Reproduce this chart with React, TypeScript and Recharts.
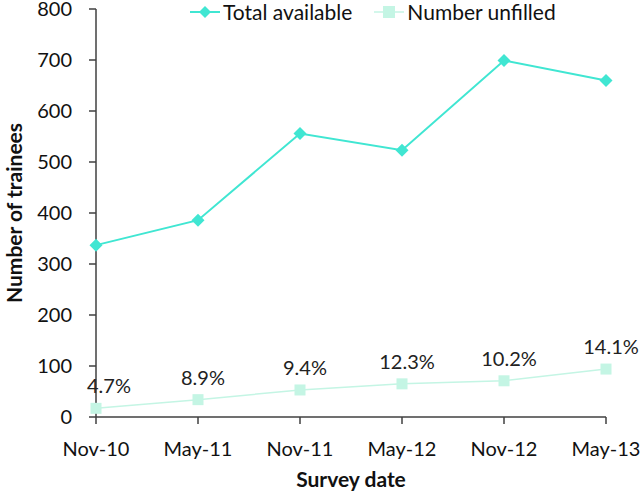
import { LineChart, Line, XAxis, YAxis, Legend, LabelList } from "recharts";

document.body.style.margin = "0";

const surveyDates = ["Nov-10", "May-11", "Nov-11", "May-12", "Nov-12", "May-13"];
const totalAvailable = [337, 386, 556, 523, 699, 660];
const numberUnfilled = [17, 34, 53, 65, 71, 94];
const unfilledPercent = ["4.7%", "8.9%", "9.4%", "12.3%", "10.2%", "14.1%"];
const yTicks = [0, 100, 200, 300, 400, 500, 600, 700, 800];

const TOTAL_COLOR = "#40E6D2";
const UNFILLED_COLOR = "#C4F5E4";
const AXIS_COLOR = "#404040";
const FONT = "Lato, 'Open Sans', sans-serif";

const data = surveyDates.map((date, i) => ({
	date,
	total: totalAvailable[i],
	unfilled: numberUnfilled[i],
	pct: unfilledPercent[i],
}));

const Diamond = (props: any) => {
	const { cx, cy, index } = props;
	if (cx == null || cy == null) return null;
	const r = 6.5;
	return (
		<path
			key={`d-${index}`}
			d={`M${cx},${cy - r}L${cx + r},${cy}L${cx},${cy + r}L${cx - r},${cy}Z`}
			fill={TOTAL_COLOR}
		/>
	);
};

const Square = (props: any) => {
	const { cx, cy, index } = props;
	if (cx == null || cy == null) return null;
	const s = 11;
	return (
		<rect
			key={`s-${index}`}
			x={cx - s / 2}
			y={cy - s / 2}
			width={s}
			height={s}
			fill={UNFILLED_COLOR}
		/>
	);
};

const renderPct = (props: any) => {
	const { x, y, index } = props;
	if (x === undefined || y === undefined) return null;
	// first label is nudged right in the original so it clears the axis
	const dx = index === 0 ? 13 : 5;
	return (
		<text
			x={x + dx}
			y={y - 23}
			textAnchor="middle"
			dominantBaseline="central"
			fontSize={20}
			fontFamily={FONT}
			fill="#222"
		>
			{unfilledPercent[index]}
		</text>
	);
};

const renderLegend = () => (
	<div
		style={{
			display: "flex",
			alignItems: "center",
			fontFamily: FONT,
			fontSize: 21,
			color: "#111",
			whiteSpace: "nowrap",
		}}
	>
		<svg width={30} height={14} style={{ marginRight: 3 }}>
			<line x1={0} y1={7} x2={30} y2={7} stroke={TOTAL_COLOR} strokeWidth={2} />
			<path d="M15,1L21,7L15,13L9,7Z" fill={TOTAL_COLOR} />
		</svg>
		<span style={{ marginRight: 22 }}>Total available</span>
		<svg width={30} height={14} style={{ marginRight: 3 }}>
			<line x1={0} y1={7} x2={30} y2={7} stroke={UNFILLED_COLOR} strokeWidth={1.5} />
			<rect x={9} y={1} width={12} height={12} fill={UNFILLED_COLOR} />
		</svg>
		<span>Number unfilled</span>
	</div>
);

export default function App() {
	return (
		<LineChart
			width={640}
			height={493}
			data={data}
			margin={{ top: 9, right: 34, bottom: 0, left: 0 }}
		>
			<XAxis
				dataKey="date"
				height={76}
				stroke={AXIS_COLOR}
				strokeWidth={1.5}
				tickSize={7}
				tickMargin={18}
				tick={{ fill: "#111", fontSize: 20, fontFamily: FONT }}
				label={{
					value: "Survey date",
					position: "insideBottom",
					offset: 6,
					fill: "#111",
					fontSize: 21,
					fontWeight: "bold",
					fontFamily: FONT,
				}}
			/>
			<YAxis
				width={96}
				domain={[0, 800]}
				ticks={yTicks}
				interval={0}
				stroke={AXIS_COLOR}
				strokeWidth={1.5}
				tickSize={7}
				tickMargin={17}
				tick={{ fill: "#111", fontSize: 20, fontFamily: FONT }}
				label={{
					value: "Number of trainees",
					angle: -90,
					position: "insideLeft",
					offset: 15,
					fill: "#111",
					fontSize: 21,
					fontWeight: "bold",
					fontFamily: FONT,
					style: { textAnchor: "middle" },
				}}
			/>
			<Legend
				verticalAlign="middle"
				layout="horizontal"
				content={renderLegend}
				wrapperStyle={{ top: -1, left: 190, width: "auto" }}
			/>
			<Line
				dataKey="total"
				name="Total available"
				stroke={TOTAL_COLOR}
				strokeWidth={2}
				dot={Diamond}
				activeDot={false}
				isAnimationActive={false}
			/>
			<Line
				dataKey="unfilled"
				name="Number unfilled"
				stroke={UNFILLED_COLOR}
				strokeWidth={1.5}
				dot={Square}
				activeDot={false}
				isAnimationActive={false}
			>
				<LabelList dataKey="pct" content={renderPct} />
			</Line>
		</LineChart>
	);
}
